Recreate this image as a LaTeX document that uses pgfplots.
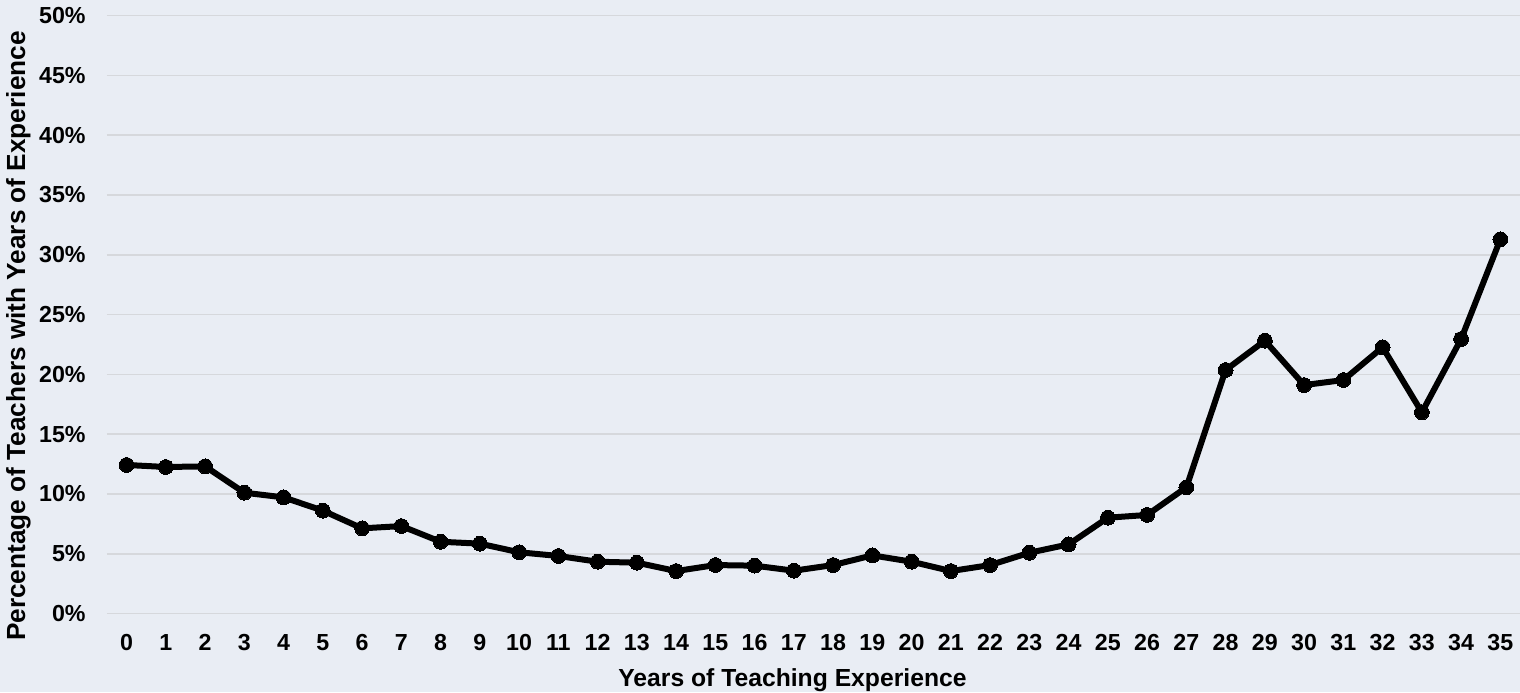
\documentclass[border=0pt]{standalone}
\usepackage{pgfplots}
\pgfplotsset{compat=1.18}
\usepackage{fontspec}
\setmainfont{Liberation Sans}
\definecolor{bgc}{RGB}{233,237,244}
\definecolor{gridc}{RGB}{214,216,220}
\begin{document}
\begin{tikzpicture}
\path[use as bounding box, fill=bgc] (-53.5pt,-39.25pt) rectangle (706.5pt,306.75pt);
\begin{axis}[
  at={(0,0)}, anchor=south west,
  scale only axis,
  width=706.5pt, height=299pt,
  xmin=-0.5, xmax=35.5,
  ymin=0, ymax=50,
  clip=false,
  axis line style={draw=none},
  major tick length=0pt,
  tick style={draw=none},
  ymajorgrids,
  grid style={line width=0.8pt, draw=gridc},
  xtick={0,1,2,3,4,5,6,7,8,9,10,11,12,13,14,15,16,17,18,19,20,21,22,23,24,25,26,27,28,29,30,31,32,33,34,35},
  xticklabels={0,1,2,3,4,5,6,7,8,9,10,11,12,13,14,15,16,17,18,19,20,21,22,23,24,25,26,27,28,29,30,31,32,33,34,35},
  ytick={0,5,10,15,20,25,30,35,40,45,50},
  yticklabels={0\%,5\%,10\%,15\%,20\%,25\%,30\%,35\%,40\%,45\%,50\%},
  xticklabel style={font=\fontsize{11.6}{14}\selectfont\bfseries, anchor=base, inner sep=0pt, yshift=-18.25pt},
  yticklabel style={font=\fontsize{11.6}{14}\selectfont\bfseries, anchor=east, inner sep=0pt, xshift=-10.5pt},
  xlabel={Years of Teaching Experience},
  ylabel={Percentage of Teachers with Years of Experience},
  xlabel style={font=\fontsize{12.35}{14}\selectfont\bfseries, at={(axis description cs:0.4851,-0.1224)}, anchor=base, inner sep=0pt},
  ylabel style={font=\fontsize{13.1}{15}\selectfont\bfseries, at={(axis description cs:-0.0580,0.464)}, anchor=base, inner sep=0pt, rotate=0},
]
\addplot[black, line width=3pt, line join=round, mark=*, mark size=3.7pt, mark options={fill=black, line width=0pt}] coordinates {
(0,12.42) (1,12.25) (2,12.3) (3,10.1) (4,9.71) (5,8.6) (6,7.12) (7,7.31) (8,6.0) (9,5.84)
(10,5.12) (11,4.81) (12,4.33) (13,4.25) (14,3.55) (15,4.05) (16,4.0) (17,3.58) (18,4.05) (19,4.86)
(20,4.33) (21,3.55) (22,4.05) (23,5.08) (24,5.78) (25,8.01) (26,8.24) (27,10.55) (28,20.36) (29,22.81)
(30,19.1) (31,19.52) (32,22.26) (33,16.82) (34,22.95) (35,31.29)
};
\end{axis}
\end{tikzpicture}
\end{document}
